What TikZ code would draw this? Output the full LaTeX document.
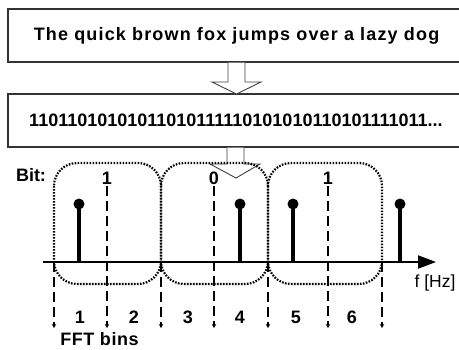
\documentclass[tikz,border=0pt]{standalone}
\usepackage{fontspec}
\setmainfont{Liberation Sans}
\usetikzlibrary{arrows.meta}
\begin{document}
\begin{tikzpicture}[x=1pt,y=-1pt,
  txtbox/.style={draw=black!80, line width=1.3pt},
  blockarrow/.style={draw=black!75, line width=0.9pt, fill=white},
  bindots/.style={line width=2.2pt, dash pattern=on 1.6pt off 1.4pt, rounded corners=23pt},
  binline/.style={line width=2pt, dash pattern=on 10pt off 5pt, -{Stealth[length=4pt,width=4.5pt]}},
  stem/.style={line width=4pt},
  lbl/.style={font=\fontsize{18}{21}\selectfont\bfseries, inner sep=0pt},
  reg/.style={font=\fontsize{17.5}{20}\selectfont, inner sep=0pt},
]
\useasboundingbox (0,0) rectangle (459,349);
\clip (0,0) rectangle (459,349);
% text boxes
\draw[txtbox] (470,9) -- (8,9) -- (8,62) -- (470,62);
\node[lbl] (sentence) at (236.5,36) {\addfontfeature{LetterSpace=6.5}The quick brown fox jumps over a lazy dog};
\draw[txtbox] (470,94) -- (8,94) -- (8,147) -- (470,147);
\node[lbl] (bits) at (236,120) {11011010101011010111110101010110101111011...};
% block arrow 1
\draw[blockarrow] (228,62.6) -- (228,82) -- (212,82) -- (236.5,94) -- (261,82) -- (245,82) -- (245,62.6);
% dashed bin lines
\foreach \x/\y [count=\i] in {54/262,107/186,161/262,214/186,268/262,328/186,382/262}{
  \coordinate (lt\i) at (\x,\y);
  \coordinate (lb\i) at (\x,328);
  \draw[binline] (lt\i) -- (lb\i);
}
% stems
\foreach \x [count=\i] in {79,240,293,400}{
  \coordinate (sb\i) at (\x,262);
  \coordinate (st\i) at (\x,204);
  \draw[stem] (sb\i) -- (st\i);
  \fill (st\i) circle (5.5);
}
% axis
\coordinate (ax0) at (43,262);
\coordinate (ax1) at (436,262);
\draw[line width=2pt, -{Triangle[length=18pt,width=13pt]}] (ax0) -- (ax1);
% block arrow 2
\draw[blockarrow] (227,147.6) -- (227,164) -- (210,164) -- (236,178) -- (260,164) -- (244,164) -- (244,147.6);
% dotted bit boxes
\draw[bindots] (54,163) rectangle (161,284);
\draw[bindots] (161,163) rectangle (268,284);
\draw[bindots] (268,163) rectangle (382,284);
% labels
\node[lbl] (bitlbl) at (31,175) {Bit:};
\node[lbl] (b1) at (107,178) {1};
\node[lbl] (b2) at (214,178) {0};
\node[lbl] (b3) at (328,178) {1};
\foreach \x [count=\i] in {80,134,188,240,296,352}{
  \node[lbl] (n\i) at (\x,317) {\i};
}
\node[lbl] (fft) at (99.5,339.5) {\addfontfeature{LetterSpace=3}FFT bins};
\node[reg] (fhz) at (435,283) {f [Hz]};
\end{tikzpicture}
\end{document}
